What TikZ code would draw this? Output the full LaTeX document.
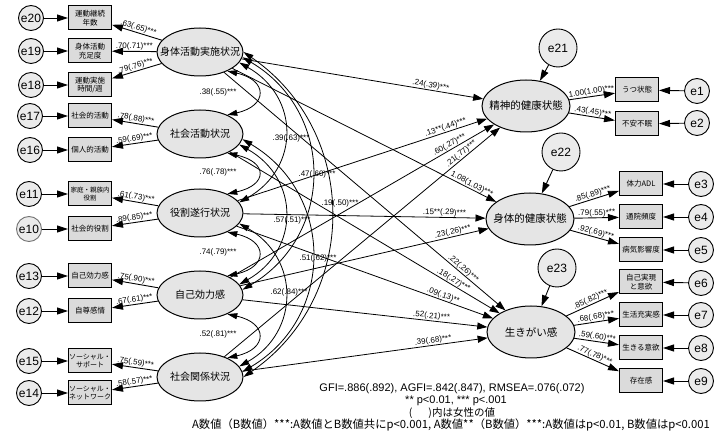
\documentclass[tikz,border=0pt]{standalone}
\usepackage{fontspec}
\setmainfont{Liberation Sans}
\newfontfamily\jp{Noto Sans CJK JP}
\usetikzlibrary{arrows.meta,shapes.geometric}
\newcommand{\zb}[1]{\makebox[0pt][c]{#1}}
\begin{document}
\begin{tikzpicture}[x=1pt,y=-1pt,
  lat/.style={ellipse,draw,line width=1pt,fill=black!10,minimum width=86pt,minimum height=48pt,inner sep=0pt,font=\jp\fontsize{10}{12}\selectfont},
  latr/.style={lat,minimum width=88pt,minimum height=52pt},
  obs/.style={rectangle,draw,line width=1pt,fill=black!14,minimum width=43pt,minimum height=24pt,inner sep=0pt,align=center,font=\jp\fontsize{7.5}{8.5}\selectfont},
  err/.style={circle,draw,line width=0.9pt,fill=black!8,minimum size=25pt,inner sep=0pt,font=\fontsize{12}{12}\selectfont},
  dist/.style={err,minimum size=38pt},
  arr/.style={-{Triangle[length=11pt,width=7pt]},line width=0.9pt},
  parr/.style={-{Triangle[length=10pt,width=7pt]},line width=0.8pt},
  cov/.style={{Triangle[length=10pt,width=6pt]}-{Triangle[length=10pt,width=6pt]},line width=0.8pt},
  lab/.style={font=\fontsize{8}{8}\selectfont,inner sep=0.5pt},
]
\useasboundingbox (0,0) rectangle (715,435);

% left latents
\node[lat] (L1) at (200,52) {\zb{身体活動実施状況}};
\node[lat] (L2) at (200,134) {\zb{社会活動状況}};
\node[lat] (L3) at (200,213) {\zb{役割遂行状況}};
\node[lat] (L4) at (200,295) {\zb{自己効力感}};
\node[lat] (L5) at (200,377) {\zb{社会関係状況}};

% left indicators
\node[obs] (b20) at (90,18) {運動継続\\年数};
\node[obs] (b19) at (90,51) {身体活動\\充足度};
\node[obs] (b18) at (90,85) {運動実施\\時間/週};
\node[obs] (b17) at (90,116) {社会的活動};
\node[obs] (b16) at (90,150) {個人的活動};
\node[obs,font=\jp\fontsize{6.5}{7.5}\selectfont] (b11) at (90,194) {家庭・親族内\\役割};
\node[obs] (b10) at (90,229) {社会的役割};
\node[obs] (b13) at (90,276) {自己効力感};
\node[obs] (b12) at (90,311) {自尊感情};
\node[obs,font=\jp\fontsize{7}{8}\selectfont] (b15) at (90,361) {ソーシャル・\\サポート};
\node[obs,font=\jp\fontsize{7}{8}\selectfont] (b14) at (90,393) {ソーシャル・\\ネットワーク};

% left errors
\node[err] (e20) at (31,18) {e20};
\node[err] (e19) at (31,51) {e19};
\node[err] (e18) at (31,85) {e18};
\node[err] (e17) at (30,116) {e17};
\node[err] (e16) at (30,150) {e16};
\node[err] (e11) at (29,194) {e11};
\node[err,draw=black!55] (e10) at (29,229) {e10};
\node[err] (e13) at (29,276) {e13};
\node[err] (e12) at (29,311) {e12};
\node[err] (e15) at (29,361) {e15};
\node[err] (e14) at (29,393) {e14};

% right latents
\node[latr,font=\jp\fontsize{10.5}{12}\selectfont] (R1) at (526,106) {\zb{精神的健康状態}};
\node[latr,font=\jp\fontsize{10.5}{12}\selectfont] (R2) at (530,219) {\zb{身体的健康状態}};
\node[latr,font=\jp\fontsize{10.5}{12}\selectfont] (R3) at (531,332) {\zb{生きがい感}};

% disturbances
\node[dist] (e21) at (558,48) {e21};
\node[dist] (e22) at (561,152) {e22};
\node[dist] (e23) at (557,268) {e23};

% right indicators
\node[obs] (c1) at (637,90) {うつ状態};
\node[obs] (c2) at (637,124) {不安不眠};
\node[obs] (c3) at (641,184) {体力ADL};
\node[obs] (c4) at (641,217) {通院頻度};
\node[obs] (c5) at (641,250) {病気影響度};
\node[obs] (c6) at (641,282) {自己実現\\と意欲};
\node[obs] (c7) at (641,315) {生活充実感};
\node[obs] (c8) at (641,348) {生きる意欲};
\node[obs] (c9) at (641,381) {存在感};

% right errors
\node[err] (e1) at (697,91) {e1};
\node[err] (e2) at (697,123) {e2};
\node[err] (e3) at (701,184) {e3};
\node[err] (e4) at (701,217) {e4};
\node[err] (e5) at (701,250) {e5};
\node[err] (e6) at (701,283) {e6};
\node[err] (e7) at (701,315) {e7};
\node[err] (e8) at (701,348) {e8};
\node[err] (e9) at (701,381) {e9};

% error arrows
\foreach \e/\b in {e20/b20,e19/b19,e18/b18,e17/b17,e16/b16,e11/b11,e10/b10,e13/b13,e12/b12,e15/b15,e14/b14,e1/c1,e2/c2,e3/c3,e4/c4,e5/c5,e6/c6,e7/c7,e8/c8,e9/c9}
  \draw[arr] (\e) -- (\b);
\draw[arr] (e21) -- (R1);
\draw[arr] (e22) -- (R2);
\draw[arr] (e23) -- (R3);

% left loadings
\draw[arr] (L1) -- (b20) node[lab,midway,sloped,above]{.63(.65)***};
\draw[arr] (L1) -- (b19) node[lab,midway,sloped,above]{.70(.71)***};
\draw[arr] (L1) -- (b18) node[lab,midway,sloped,above]{.79(.76)***};
\draw[arr] (L2) -- (b17) node[lab,midway,sloped,above]{.78(.88)***};
\draw[arr] (L2) -- (b16) node[lab,midway,sloped,above]{.59(.69)***};
\draw[arr] (L3) -- (b11) node[lab,midway,sloped,above]{.61(.73)***};
\draw[arr] (L3) -- (b10) node[lab,midway,sloped,above]{.89(.85)***};
\draw[arr] (L4) -- (b13) node[lab,midway,sloped,above]{.75(.90)***};
\draw[arr] (L4) -- (b12) node[lab,midway,sloped,above]{.67(.61)***};
\draw[arr] (L5) -- (b15) node[lab,midway,sloped,above]{.75(.59)***};
\draw[arr] (L5) -- (b14) node[lab,midway,sloped,above]{.58(.57)***};

% right loadings
\draw[arr] (R1) -- (c1) node[lab,midway,sloped,above]{1.00(1.00)***};
\draw[arr] (R1) -- (c2) node[lab,midway,sloped,above]{.43(.45)***};
\draw[arr] (R2) -- (c3) node[lab,midway,sloped,above]{.85(.89)***};
\draw[arr] (R2) -- (c4) node[lab,midway,sloped,above]{.79(.55)***};
\draw[arr] (R2) -- (c5) node[lab,midway,sloped,above]{.92(.69)***};
\draw[arr] (R3) -- (c6) node[lab,midway,sloped,above]{.85(.82)***};
\draw[arr] (R3) -- (c7) node[lab,midway,sloped,above]{.68(.68)***};
\draw[arr] (R3) -- (c8) node[lab,midway,sloped,above]{.59(.60)***};
\draw[arr] (R3) -- (c9) node[lab,midway,sloped,above]{.77(.78)***};

% structural paths
\draw[parr] (L1) -- (R1) node[lab,pos=0.78,sloped,above]{.24(.39)***};
\draw[parr] (L3) -- (R1) node[lab,pos=0.84,sloped,above]{.13**(.44)***};
\draw[parr] (L4) -- (R1) node[lab,pos=0.84,sloped,above]{.60(.27)***};
\draw[parr] (L5) -- (R1) node[lab,pos=0.87,sloped,above]{.21(.77)***};
\draw[parr] (L1) -- (R2) node[lab,pos=0.9,sloped,above]{1.08(1.03)***};
\draw[parr] (L3) -- (R2) node[lab,pos=0.83,sloped,above]{.15**(.29)***};
\draw[parr] (L4) -- (R2) node[lab,pos=0.86,sloped,above]{.23(.26)***};
\draw[parr] (L1) -- (R3) node[lab,pos=0.84,sloped,above]{.22(.26)***};
\draw[parr] (L2) -- (R3) node[lab,pos=0.82,sloped,above]{.18(.27)***};
\draw[parr] (L3) -- (R3) node[lab,pos=0.8,sloped,above]{.09(.13)**};
\draw[parr] (L4) -- (R3) node[lab,pos=0.77,sloped,above]{.52(.21)***};
\draw[parr] (L5) -- (R3) node[lab,pos=0.78,sloped,above]{.39(.68)***};

% covariances adjacent
\draw[cov] (L1.-35) .. controls (268,80) and (268,106) .. (L2.35);
\draw[cov] (L2.-35) .. controls (268,162) and (268,185) .. (L3.35);
\draw[cov] (L3.-35) .. controls (268,241) and (268,267) .. (L4.35);
\draw[cov] (L4.-35) .. controls (268,323) and (268,349) .. (L5.35);
% skip 1
\draw[cov] (L1.-15) .. controls (300,97) and (300,168) .. (L3.15);
\draw[cov] (L2.-15) .. controls (300,179) and (300,250) .. (L4.15);
\draw[cov] (L3.-15) .. controls (300,258) and (300,332) .. (L5.15);
% skip 2
\draw[cov] (L1.-7) .. controls (335,112) and (335,235) .. (L4.7);
\draw[cov] (L2.-7) .. controls (335,194) and (335,317) .. (L5.7);
% skip 3
\draw[cov] (L1.0) .. controls (360,132) and (360,297) .. (L5.0);

% covariance labels
\node[lab] (k1) at (218,92) {.38(.55)***};
\node[lab] (k2) at (218,172) {.76(.78)***};
\node[lab] (k3) at (218,252) {.74(.79)***};
\node[lab] (k4) at (218,334) {.52(.81)***};
\node[lab] (k5) at (291,138) {.39(.63)***};
\node[lab] (k6) at (317,174) {.47(.60)***};
\node[lab] (k7) at (340,203) {.19(.50)***};
\node[lab] (k8) at (292,220) {.57(.51)***};
\node[lab] (k9) at (318,258) {.51(.62)***};
\node[lab] (k10) at (289,292) {.62(.84)***};

% fit notes
\node[font=\fontsize{11}{11}\selectfont,inner sep=0pt] (t1) at (452,389) {GFI=.886(.892), AGFI=.842(.847), RMSEA=.076(.072)};
\node[font=\fontsize{11}{11}\selectfont,inner sep=0pt] (t2) at (456,401) {** p<0.01, *** p<.001};
\node[font=\jp\fontsize{10.5}{11}\selectfont,inner sep=0pt] (t3) at (452,413) {(\hspace{16pt})内は女性の値};
\node[font=\jp\fontsize{11.3}{12}\selectfont,inner sep=0pt] (t4) at (451,425) {A数値（B数値）***:A数値とB数値共にp<0.001, A数値**（B数値）***:A数値はp<0.01, B数値はp<0.001};
\end{tikzpicture}
\end{document}
